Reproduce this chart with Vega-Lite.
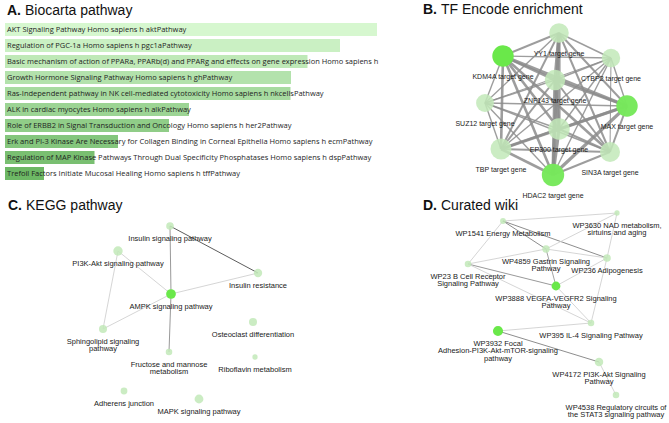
{
  "$schema": "https://vega.github.io/schema/vega-lite/v6.json",
  "width": 669,
  "height": 423,
  "autosize": "none",
  "padding": 0,
  "background": "white",
  "config": {"view": {"stroke": null}, "font": "Liberation Sans"},
  "datasets": {
    "bars": [
      {"rank": 1, "term": "AKT Signaling Pathway Homo sapiens h aktPathway", "score": 7.44},
      {"rank": 2, "term": "Regulation of PGC-1a Homo sapiens h pgc1aPathway", "score": 6.70},
      {"rank": 3, "term": "Basic mechanism of action of PPARa, PPARb(d) and PPARg and effects on gene expression Homo sapiens h", "score": 6.05},
      {"rank": 4, "term": "Growth Hormone Signaling Pathway Homo sapiens h ghPathway", "score": 5.72},
      {"rank": 5, "term": "Ras-Independent pathway in NK cell-mediated cytotoxicity Homo sapiens h nkcellsPathway", "score": 5.71},
      {"rank": 6, "term": "ALK in cardiac myocytes Homo sapiens h alkPathway", "score": 3.68},
      {"rank": 7, "term": "Role of ERBB2 in Signal Transduction and Oncology Homo sapiens h her2Pathway", "score": 3.28},
      {"rank": 8, "term": "Erk and PI-3 Kinase Are Necessary for Collagen Binding in Corneal Epithelia Homo sapiens h ecmPathway", "score": 2.26},
      {"rank": 9, "term": "Regulation of MAP Kinase Pathways Through Dual Specificity Phosphatases Homo sapiens h dspPathway", "score": 1.79},
      {"rank": 10, "term": "Trefoil Factors Initiate Mucosal Healing Homo sapiens h tffPathway", "score": 0.78}
    ],
    "nodes": [
      {"panel": "B", "id": "YY1", "label": "YY1 target gene", "x": 559, "y": 33, "overlap": 19, "sig": 0},
      {"panel": "B", "id": "KDM4A", "label": "KDM4A target gene", "x": 503, "y": 56, "overlap": 23, "sig": 1},
      {"panel": "B", "id": "CTBP2", "label": "CTBP2 target gene", "x": 611, "y": 58, "overlap": 17, "sig": 0},
      {"panel": "B", "id": "ZNF143", "label": "ZNF143 target gene", "x": 555, "y": 80, "overlap": 21, "sig": 0},
      {"panel": "B", "id": "SUZ12", "label": "SUZ12 target gene", "x": 485, "y": 103, "overlap": 16, "sig": 0},
      {"panel": "B", "id": "MAX", "label": "MAX target gene", "x": 627, "y": 106, "overlap": 23, "sig": 0.85},
      {"panel": "B", "id": "EP300", "label": "EP300 target gene", "x": 559, "y": 129, "overlap": 23, "sig": 0},
      {"panel": "B", "id": "TBP", "label": "TBP target gene", "x": 501, "y": 149, "overlap": 22, "sig": 0},
      {"panel": "B", "id": "SIN3A", "label": "SIN3A target gene", "x": 610, "y": 152, "overlap": 20, "sig": 0},
      {"panel": "B", "id": "HDAC2", "label": "HDAC2 target gene", "x": 553, "y": 175, "overlap": 25, "sig": 0.85},
      {"panel": "C", "id": "INS", "label": "Insulin signaling pathway", "x": 170, "y": 226, "overlap": 2.9, "sig": 0},
      {"panel": "C", "id": "PI3K", "label": "PI3K-Akt signaling pathway", "x": 118, "y": 251, "overlap": 4.4, "sig": 0},
      {"panel": "C", "id": "INSR", "label": "Insulin resistance", "x": 258, "y": 273, "overlap": 3.5, "sig": 0},
      {"panel": "C", "id": "AMPK", "label": "AMPK signaling pathway", "x": 171, "y": 294, "overlap": 4.75, "sig": 1},
      {"panel": "C", "id": "OST", "label": "Osteoclast differentiation", "x": 253, "y": 322, "overlap": 3.2, "sig": 0},
      {"panel": "C", "id": "SPH", "label": "Sphingolipid signaling\npathway", "x": 103, "y": 329, "overlap": 3.2, "sig": 0},
      {"panel": "C", "id": "FRU", "label": "Fructose and mannose\nmetabolism", "x": 169, "y": 352, "overlap": 2.15, "sig": 0},
      {"panel": "C", "id": "RIB", "label": "Riboflavin metabolism", "x": 255, "y": 357, "overlap": 1.4, "sig": 0},
      {"panel": "C", "id": "ADH", "label": "Adherens junction", "x": 124, "y": 391, "overlap": 2.3, "sig": 0},
      {"panel": "C", "id": "MAPK", "label": "MAPK signaling pathway", "x": 199, "y": 399, "overlap": 3.9, "sig": 0},
      {"panel": "D", "id": "WP1541", "label": "WP1541 Energy Metabolism", "x": 503, "y": 221, "overlap": 1.7, "sig": 0},
      {"panel": "D", "id": "WP3630", "label": "WP3630 NAD metabolism,\nsirtuins and aging", "x": 617, "y": 213, "overlap": 1.4, "sig": 0},
      {"panel": "D", "id": "WP4859", "label": "WP4859 Gastrin Signaling\nPathway", "x": 546, "y": 249, "overlap": 2.75, "sig": 0},
      {"panel": "D", "id": "WP236", "label": "WP236 Adipogenesis", "x": 607, "y": 258, "overlap": 2.9, "sig": 0},
      {"panel": "D", "id": "WP23", "label": "WP23 B Cell Receptor\nSignaling Pathway", "x": 468, "y": 264, "overlap": 2.15, "sig": 0},
      {"panel": "D", "id": "WP3888", "label": "WP3888 VEGFA-VEGFR2 Signaling\nPathway", "x": 556, "y": 286, "overlap": 3.9, "sig": 1},
      {"panel": "D", "id": "WP395", "label": "WP395 IL-4 Signaling Pathway", "x": 591, "y": 323, "overlap": 2.15, "sig": 0},
      {"panel": "D", "id": "WP3932", "label": "WP3932 Focal\nAdhesion-PI3K-Akt-mTOR-signaling\npathway", "x": 498, "y": 331, "overlap": 5.1, "sig": 1},
      {"panel": "D", "id": "WP4172", "label": "WP4172 PI3K-Akt Signaling\nPathway", "x": 599, "y": 362, "overlap": 3.6, "sig": 0},
      {"panel": "D", "id": "WP4538", "label": "WP4538 Regulatory circuits of\nthe STAT3 signaling pathway", "x": 616, "y": 395, "overlap": 2.15, "sig": 0}
    ],
    "edges": [
      {"panel": "B", "s": "YY1", "t": "KDM4A", "w": 2},
      {"panel": "B", "s": "YY1", "t": "CTBP2", "w": 1.5},
      {"panel": "B", "s": "YY1", "t": "ZNF143", "w": 3},
      {"panel": "B", "s": "YY1", "t": "SUZ12", "w": 1.5},
      {"panel": "B", "s": "YY1", "t": "MAX", "w": 2},
      {"panel": "B", "s": "YY1", "t": "EP300", "w": 3},
      {"panel": "B", "s": "YY1", "t": "TBP", "w": 2},
      {"panel": "B", "s": "YY1", "t": "SIN3A", "w": 2},
      {"panel": "B", "s": "YY1", "t": "HDAC2", "w": 3},
      {"panel": "B", "s": "KDM4A", "t": "CTBP2", "w": 1.5},
      {"panel": "B", "s": "KDM4A", "t": "ZNF143", "w": 2.5},
      {"panel": "B", "s": "KDM4A", "t": "SUZ12", "w": 1.5},
      {"panel": "B", "s": "KDM4A", "t": "MAX", "w": 3},
      {"panel": "B", "s": "KDM4A", "t": "EP300", "w": 2.5},
      {"panel": "B", "s": "KDM4A", "t": "TBP", "w": 2.5},
      {"panel": "B", "s": "KDM4A", "t": "SIN3A", "w": 2.5},
      {"panel": "B", "s": "KDM4A", "t": "HDAC2", "w": 2.5},
      {"panel": "B", "s": "CTBP2", "t": "ZNF143", "w": 1.5},
      {"panel": "B", "s": "CTBP2", "t": "SUZ12", "w": 1.2},
      {"panel": "B", "s": "CTBP2", "t": "MAX", "w": 1.5},
      {"panel": "B", "s": "CTBP2", "t": "EP300", "w": 1.5},
      {"panel": "B", "s": "CTBP2", "t": "TBP", "w": 1.5},
      {"panel": "B", "s": "CTBP2", "t": "SIN3A", "w": 1.2},
      {"panel": "B", "s": "CTBP2", "t": "HDAC2", "w": 1.5},
      {"panel": "B", "s": "ZNF143", "t": "SUZ12", "w": 1.5},
      {"panel": "B", "s": "ZNF143", "t": "MAX", "w": 2.5},
      {"panel": "B", "s": "ZNF143", "t": "EP300", "w": 3},
      {"panel": "B", "s": "ZNF143", "t": "TBP", "w": 2},
      {"panel": "B", "s": "ZNF143", "t": "SIN3A", "w": 2},
      {"panel": "B", "s": "ZNF143", "t": "HDAC2", "w": 3},
      {"panel": "B", "s": "SUZ12", "t": "MAX", "w": 1.5},
      {"panel": "B", "s": "SUZ12", "t": "EP300", "w": 1.5},
      {"panel": "B", "s": "SUZ12", "t": "TBP", "w": 1.5},
      {"panel": "B", "s": "SUZ12", "t": "SIN3A", "w": 1.5},
      {"panel": "B", "s": "SUZ12", "t": "HDAC2", "w": 1.5},
      {"panel": "B", "s": "MAX", "t": "EP300", "w": 2.5},
      {"panel": "B", "s": "MAX", "t": "TBP", "w": 3},
      {"panel": "B", "s": "MAX", "t": "SIN3A", "w": 2},
      {"panel": "B", "s": "MAX", "t": "HDAC2", "w": 3},
      {"panel": "B", "s": "EP300", "t": "TBP", "w": 2},
      {"panel": "B", "s": "EP300", "t": "SIN3A", "w": 2},
      {"panel": "B", "s": "EP300", "t": "HDAC2", "w": 3},
      {"panel": "B", "s": "TBP", "t": "SIN3A", "w": 2},
      {"panel": "B", "s": "TBP", "t": "HDAC2", "w": 2.5},
      {"panel": "B", "s": "SIN3A", "t": "HDAC2", "w": 2},
      {"panel": "C", "s": "INS", "t": "INSR", "w": 3},
      {"panel": "C", "s": "INS", "t": "AMPK", "w": 2},
      {"panel": "C", "s": "PI3K", "t": "AMPK", "w": 1},
      {"panel": "C", "s": "PI3K", "t": "SPH", "w": 1},
      {"panel": "C", "s": "SPH", "t": "AMPK", "w": 1},
      {"panel": "C", "s": "AMPK", "t": "INSR", "w": 1},
      {"panel": "C", "s": "AMPK", "t": "FRU", "w": 2},
      {"panel": "D", "s": "WP1541", "t": "WP3630", "w": 1},
      {"panel": "D", "s": "WP1541", "t": "WP4859", "w": 2.2},
      {"panel": "D", "s": "WP1541", "t": "WP236", "w": 2.2},
      {"panel": "D", "s": "WP1541", "t": "WP23", "w": 1},
      {"panel": "D", "s": "WP3630", "t": "WP4859", "w": 1},
      {"panel": "D", "s": "WP3630", "t": "WP236", "w": 1},
      {"panel": "D", "s": "WP23", "t": "WP4859", "w": 1},
      {"panel": "D", "s": "WP23", "t": "WP3888", "w": 2},
      {"panel": "D", "s": "WP23", "t": "WP395", "w": 1},
      {"panel": "D", "s": "WP4859", "t": "WP3888", "w": 1.8},
      {"panel": "D", "s": "WP4859", "t": "WP236", "w": 1},
      {"panel": "D", "s": "WP3888", "t": "WP236", "w": 1},
      {"panel": "D", "s": "WP3888", "t": "WP395", "w": 1},
      {"panel": "D", "s": "WP236", "t": "WP395", "w": 1},
      {"panel": "D", "s": "WP3932", "t": "WP395", "w": 1},
      {"panel": "D", "s": "WP3932", "t": "WP4172", "w": 2.2},
      {"panel": "D", "s": "WP4172", "t": "WP4538", "w": 1}
    ]
  },
  "layer": [
    {
      "data": {"name": "bars"},
      "layer": [
        {
          "mark": {"type": "bar"},
          "encoding": {
            "x": {"field": "score", "type": "quantitative", "scale": {"domain": [0, 8], "range": [5, 405], "nice": false, "zero": true}, "axis": null},
            "y": {"field": "term", "type": "nominal", "sort": {"field": "rank", "op": "min"}, "scale": {"range": [23, 180], "paddingInner": 0.1875, "paddingOuter": 0}, "axis": null},
            "fill": {"field": "rank", "type": "quantitative", "scale": {"domain": [1, 10], "range": ["#d6f7cf", "#6db865"], "interpolate": "rgb"}, "legend": null}
          }
        },
        {
          "mark": {"type": "text", "align": "left", "baseline": "middle", "dx": 2, "font": "Open Sans", "fontSize": 7.5, "fill": "#1e1e1e"},
          "encoding": {
            "x": {"datum": 0, "type": "quantitative"},
            "y": {"field": "term", "type": "nominal", "sort": {"field": "rank", "op": "min"}},
            "text": {"field": "term"}
          }
        }
      ]
    },
    {
      "layer": [
        {
          "data": {"name": "edges"},
          "transform": [
            {"filter": "datum.panel === 'B'"},
            {"lookup": "s", "from": {"data": {"name": "nodes"}, "key": "id", "fields": ["x", "y"]}, "as": ["x1", "y1"]},
            {"lookup": "t", "from": {"data": {"name": "nodes"}, "key": "id", "fields": ["x", "y"]}, "as": ["x2", "y2"]}
          ],
          "mark": {"type": "rule", "stroke": "#8c8c8c", "opacity": 0.85},
          "encoding": {
            "x": {"field": "x1", "type": "quantitative", "scale": {"domain": [0, 669], "range": [0, 669], "nice": false, "zero": false}, "axis": null},
            "y": {"field": "y1", "type": "quantitative", "scale": {"domain": [0, 423], "range": [0, 423], "nice": false, "zero": false}, "axis": null},
            "x2": {"field": "x2"},
            "y2": {"field": "y2"},
            "strokeWidth": {"field": "w", "type": "quantitative", "scale": {"domain": [1, 3], "range": [0.8, 3.2]}, "legend": null}
          }
        },
        {
          "data": {"name": "edges"},
          "transform": [
            {"filter": "datum.panel !== 'B'"},
            {"lookup": "s", "from": {"data": {"name": "nodes"}, "key": "id", "fields": ["x", "y"]}, "as": ["x1", "y1"]},
            {"lookup": "t", "from": {"data": {"name": "nodes"}, "key": "id", "fields": ["x", "y"]}, "as": ["x2", "y2"]}
          ],
          "mark": {"type": "rule", "strokeWidth": 0.9},
          "encoding": {
            "x": {"field": "x1", "type": "quantitative", "scale": {"domain": [0, 669], "range": [0, 669], "nice": false, "zero": false}, "axis": null},
            "y": {"field": "y1", "type": "quantitative", "scale": {"domain": [0, 423], "range": [0, 423], "nice": false, "zero": false}, "axis": null},
            "x2": {"field": "x2"},
            "y2": {"field": "y2"},
            "stroke": {"field": "w", "type": "quantitative", "scale": {"domain": [1, 3], "range": ["#d0d0d0", "#4a4a4a"], "interpolate": "rgb"}, "legend": null}
          }
        },
        {
          "data": {"name": "nodes"},
          "mark": {"type": "circle", "strokeWidth": 0},
          "encoding": {
            "x": {"field": "x", "type": "quantitative", "scale": {"domain": [0, 669], "range": [0, 669], "nice": false, "zero": false}, "axis": null},
            "y": {"field": "y", "type": "quantitative", "scale": {"domain": [0, 423], "range": [0, 423], "nice": false, "zero": false}, "axis": null},
            "size": {"field": "overlap", "type": "quantitative", "scale": {"type": "linear", "domain": [0, 30], "range": [0, 600]}, "legend": null},
            "fill": {"field": "sig", "type": "quantitative", "scale": {"domain": [0, 1], "range": ["#c2e9b8", "#6ae84a"], "interpolate": "rgb"}, "legend": null},
            "opacity": {"field": "sig", "type": "quantitative", "scale": {"domain": [0, 1], "range": [0.85, 1]}, "legend": null}
          }
        },
        {
          "data": {"name": "nodes"},
          "transform": [{"filter": "datum.panel === 'B'"}],
          "mark": {"type": "text", "align": "center", "baseline": "alphabetic", "dy": 23, "fontSize": 7, "fill": "#1a1a1a"},
          "encoding": {
            "x": {"field": "x", "type": "quantitative", "scale": {"domain": [0, 669], "range": [0, 669], "nice": false, "zero": false}, "axis": null},
            "y": {"field": "y", "type": "quantitative", "scale": {"domain": [0, 423], "range": [0, 423], "nice": false, "zero": false}, "axis": null},
            "text": {"field": "label"}
          }
        },
        {
          "data": {"name": "nodes"},
          "transform": [{"filter": "datum.panel !== 'B'"}],
          "mark": {"type": "text", "align": "center", "baseline": "alphabetic", "dy": 14.7, "fontSize": 7.5, "lineHeight": 7.6, "lineBreak": "\n", "fill": "#1a1a1a"},
          "encoding": {
            "x": {"field": "x", "type": "quantitative", "scale": {"domain": [0, 669], "range": [0, 669], "nice": false, "zero": false}, "axis": null},
            "y": {"field": "y", "type": "quantitative", "scale": {"domain": [0, 423], "range": [0, 423], "nice": false, "zero": false}, "axis": null},
            "text": {"field": "label"}
          }
        },
        {
          "data": {"values": [{"letter": "A.", "name": "Biocarta pathway"}]},
          "encoding": {
            "x": {"datum": 7, "type": "quantitative", "scale": {"domain": [0, 669], "range": [0, 669], "nice": false, "zero": false}, "axis": null},
            "y": {"datum": 15, "type": "quantitative", "scale": {"domain": [0, 423], "range": [0, 423], "nice": false, "zero": false}, "axis": null}
          },
          "layer": [
            {"mark": {"type": "text", "align": "left", "baseline": "alphabetic", "fontSize": 14, "fontWeight": "bold", "fill": "#111"}, "encoding": {"text": {"field": "letter"}}},
            {"mark": {"type": "text", "align": "left", "baseline": "alphabetic", "fontSize": 14, "dx": 18, "fill": "#111"}, "encoding": {"text": {"field": "name"}}}
          ]
        },
        {
          "data": {"values": [{"letter": "B.", "name": "TF Encode enrichment"}]},
          "encoding": {
            "x": {"datum": 423, "type": "quantitative", "scale": {"domain": [0, 669], "range": [0, 669], "nice": false, "zero": false}, "axis": null},
            "y": {"datum": 13.5, "type": "quantitative", "scale": {"domain": [0, 423], "range": [0, 423], "nice": false, "zero": false}, "axis": null}
          },
          "layer": [
            {"mark": {"type": "text", "align": "left", "baseline": "alphabetic", "fontSize": 14, "fontWeight": "bold", "fill": "#111"}, "encoding": {"text": {"field": "letter"}}},
            {"mark": {"type": "text", "align": "left", "baseline": "alphabetic", "fontSize": 14, "dx": 18, "fill": "#111"}, "encoding": {"text": {"field": "name"}}}
          ]
        },
        {
          "data": {"values": [{"letter": "C.", "name": "KEGG pathway"}]},
          "encoding": {
            "x": {"datum": 8, "type": "quantitative", "scale": {"domain": [0, 669], "range": [0, 669], "nice": false, "zero": false}, "axis": null},
            "y": {"datum": 210, "type": "quantitative", "scale": {"domain": [0, 423], "range": [0, 423], "nice": false, "zero": false}, "axis": null}
          },
          "layer": [
            {"mark": {"type": "text", "align": "left", "baseline": "alphabetic", "fontSize": 14, "fontWeight": "bold", "fill": "#111"}, "encoding": {"text": {"field": "letter"}}},
            {"mark": {"type": "text", "align": "left", "baseline": "alphabetic", "fontSize": 14, "dx": 18, "fill": "#111"}, "encoding": {"text": {"field": "name"}}}
          ]
        },
        {
          "data": {"values": [{"letter": "D.", "name": "Curated wiki"}]},
          "encoding": {
            "x": {"datum": 423, "type": "quantitative", "scale": {"domain": [0, 669], "range": [0, 669], "nice": false, "zero": false}, "axis": null},
            "y": {"datum": 210, "type": "quantitative", "scale": {"domain": [0, 423], "range": [0, 423], "nice": false, "zero": false}, "axis": null}
          },
          "layer": [
            {"mark": {"type": "text", "align": "left", "baseline": "alphabetic", "fontSize": 14, "fontWeight": "bold", "fill": "#111"}, "encoding": {"text": {"field": "letter"}}},
            {"mark": {"type": "text", "align": "left", "baseline": "alphabetic", "fontSize": 14, "dx": 18, "fill": "#111"}, "encoding": {"text": {"field": "name"}}}
          ]
        }
      ]
    }
  ],
  "resolve": {"scale": {"x": "independent", "y": "independent", "fill": "independent"}}
}
